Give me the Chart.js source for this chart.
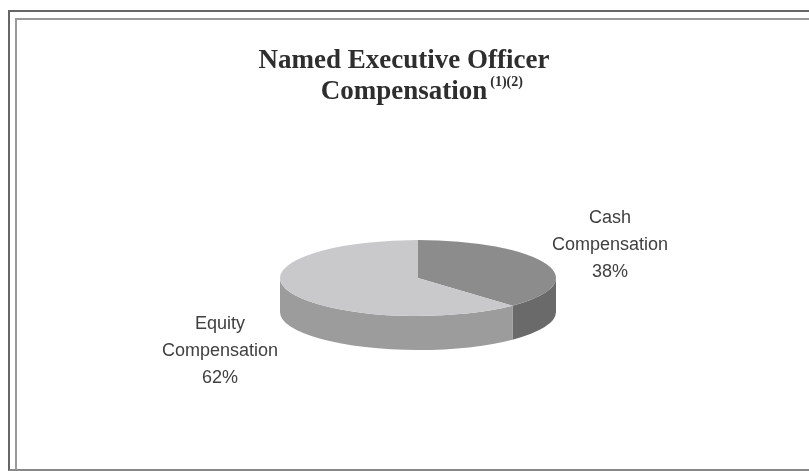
<!DOCTYPE html>
<html>
<head>
<meta charset="utf-8">
<script src="https://cdn.jsdelivr.net/npm/chart.js@4.4.1/dist/chart.umd.min.js"></script>
<style>
  html, body { margin: 0; padding: 0; background: #fff; }
  #wrap { position: relative; width: 809px; height: 471px; overflow: hidden; }
  .frame { position: absolute; box-sizing: border-box; pointer-events: none; }
  #outer { left: 8px; top: 10px; width: 900px; height: 461px; border-left: 2px solid #666; border-top: 2px solid #666; border-bottom: 2px solid #888; }
  #inner { left: 15px; top: 18px; width: 900px; height: 452px; border-left: 2px solid #999; border-top: 2px solid #999; }
  canvas { position: absolute; left: 0; top: 0; }
</style>
</head>
<body>
<div id="wrap">
  <div class="frame" id="outer"></div>
  <div class="frame" id="inner"></div>
  <canvas id="chart" width="809" height="471"></canvas>
</div>
<script>
// data
const categories = ['Cash Compensation', 'Equity Compensation'];
const shares = [38, 62];

// look
const topColors = ['#8c8c8c', '#c9c9cb'];
const sideColors = ['#6a6a6a', '#9c9c9c'];
const pie3d = { cx: 418, cy: 278, rx: 138, ry: 38, depth: 34 };
const labelAnchors = [[610, 223], [220, 329]];

// squash the flat pie into an ellipse and give it a wall
const pie3dPlugin = {
  id: 'pie3d',
  beforeDatasetsDraw(chart) {
    const ctx = chart.ctx;
    const arcs = chart.getDatasetMeta(0).data;
    if (!arcs.length) return;
    const { cx, cy, rx, ry, depth } = pie3d;

    arcs.forEach((arc, i) => {
      const { startAngle, endAngle } = arc.getProps(['startAngle', 'endAngle'], true);
      for (let k = -1; k <= 1; k++) {
        const s = Math.max(startAngle + k * 2 * Math.PI, 0);
        const e = Math.min(endAngle + k * 2 * Math.PI, Math.PI);
        if (e <= s) continue;
        ctx.beginPath();
        ctx.ellipse(cx, cy, rx, ry, 0, s, e, false);
        ctx.ellipse(cx, cy + depth, rx, ry, 0, e, s, true);
        ctx.closePath();
        ctx.fillStyle = sideColors[i];
        ctx.fill();
      }
    });

    const { x, y, outerRadius } = arcs[0].getProps(['x', 'y', 'outerRadius'], true);
    ctx.save();
    ctx.translate(cx, cy);
    ctx.scale(rx / outerRadius, ry / outerRadius);
    ctx.translate(-x, -y);
  },
  afterDatasetsDraw(chart) {
    chart.ctx.restore();
  },
  afterDraw(chart) {
    const ctx = chart.ctx;
    ctx.save();
    ctx.fillStyle = '#2e2e2e';
    ctx.textAlign = 'center';
    ctx.textBaseline = 'alphabetic';
    ctx.font = 'bold 27px "Liberation Serif", "Times New Roman", serif';
    ctx.fillText('Named Executive Officer', 404, 68);
    ctx.fillText('Compensation', 404, 99);
    const w = ctx.measureText('Compensation').width;
    ctx.textAlign = 'left';
    ctx.font = 'bold 14px "Liberation Serif", "Times New Roman", serif';
    ctx.fillText('(1)(2)', 404 + w / 2 + 3, 86);

    ctx.textAlign = 'center';
    ctx.fillStyle = '#404040';
    ctx.font = '18px "Liberation Sans", Arial, sans-serif';
    categories.forEach((name, i) => {
      const lines = name.split(' ').concat(shares[i] + '%');
      const [lx, ly] = labelAnchors[i];
      lines.forEach((t, j) => ctx.fillText(t, lx, ly + j * 27));
    });
    ctx.restore();
  }
};

new Chart(document.getElementById('chart'), {
  type: 'pie',
  data: {
    labels: categories,
    datasets: [{
      data: shares,
      backgroundColor: topColors,
      borderWidth: 0,
      clip: false
    }]
  },
  options: {
    responsive: false,
    animation: false,
    layout: { padding: 60 },
    plugins: {
      legend: { display: false },
      tooltip: { enabled: false },
      title: { display: false }
    }
  },
  plugins: [pie3dPlugin]
});
</script>
</body>
</html>
